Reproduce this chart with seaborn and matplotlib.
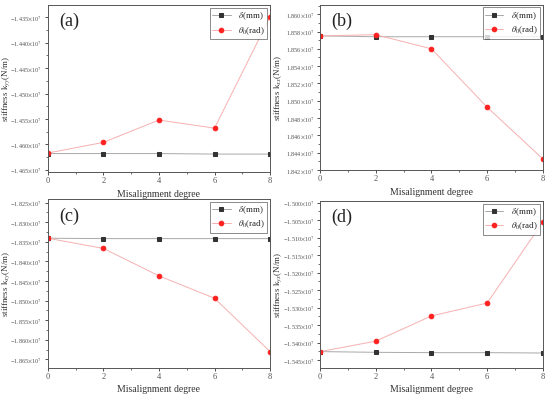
import numpy as np
import pandas as pd
import matplotlib
matplotlib.use("Agg")
import matplotlib.pyplot as plt
import seaborn as sns
from matplotlib.ticker import FuncFormatter, MultipleLocator, AutoMinorLocator

sns.set_style("ticks")
plt.rcParams["font.family"] = ["Liberation Serif", "DejaVu Serif"]
plt.rcParams["mathtext.fontset"] = "stix"

# misalignment degree
degree = [0, 2, 4, 6, 8]

# values in units of 1e7 N/m
a_delta = [-1.4618, -1.4618, -1.4618, -1.4619, -1.4619]
a_theta = [-1.4617, -1.4596, -1.4552, -1.4568, -1.4349]
b_delta = [1.8575, 1.8574, 1.8574, 1.8574, 1.8574]
b_theta = [1.8575, 1.85764, 1.8560, 1.84925, 1.84327]
c_delta = [-1.8341, -1.8342, -1.8342, -1.8342, -1.8342]
c_theta = [-1.8341, -1.8367, -1.8437, -1.8494, -1.8630]
d_delta = [-1.5426, -1.5428, -1.5429, -1.5429, -1.5430]
d_theta = [-1.5426, -1.5396, -1.5324, -1.5287, -1.5055]

panels = [
    ("(a)", "yy", a_delta, a_theta, (-1.4654, -1.4326), 0.005, [0.087, 0.566, 0.404, 0.421], -0.16),
    ("(b)", "xx", b_delta, b_theta, (1.8420, 1.8611), 0.002, [0.582, 0.571, 0.405, 0.417], -0.16),
    ("(c)", "xy", c_delta, c_theta, (-1.8671, -1.8241), 0.005, [0.087, 0.0715, 0.404, 0.426], -0.16),
    ("(d)", "yx", d_delta, d_theta, (-1.5472, -1.4995), 0.005, [0.582, 0.0715, 0.405, 0.421], -0.16),
]


def fmt(v, pos):
    s = f"{abs(v):.3f}"
    sign = "\u2212" if v < -1e-9 else ""
    return sign + s + r"$\times$10$^{7}$"


fig = plt.figure(figsize=(5.5, 3.96), dpi=100)

for tag, sub, dl, th, ylim, step, rect, labx in panels:
    ax = fig.add_axes(rect)
    df = pd.DataFrame({"degree": degree, "delta": dl, "theta": th})
    sns.lineplot(data=df, x="degree", y="delta", ax=ax, color="#a8a8a8", lw=0.7,
                 marker="s", markersize=3, markerfacecolor="#333333",
                 markeredgecolor="#333333", label=r"$\delta$(mm)")
    sns.lineplot(data=df, x="degree", y="theta", ax=ax, color="#f6b0b0", lw=0.7,
                 marker="o", markersize=3.3, markerfacecolor="#ff2020",
                 markeredgecolor="#ff2020", label=r"$\theta_0$(rad)")
    ax.set_xlim(0, 8)
    ax.set_ylim(*ylim)
    ax.xaxis.set_major_locator(MultipleLocator(2))
    ax.xaxis.set_minor_locator(AutoMinorLocator(2))
    ax.yaxis.set_major_locator(MultipleLocator(step))
    ax.yaxis.set_minor_locator(AutoMinorLocator(2))
    ax.yaxis.set_major_formatter(FuncFormatter(fmt))
    ax.tick_params(axis="both", which="major", labelsize=4.5, length=2.5, width=0.6,
                   colors="#333333", labelcolor="#555555", pad=1.5)
    ax.tick_params(axis="both", which="minor", length=1.5, width=0.5, colors="#333333")
    ax.tick_params(axis="x", labelsize=6)
    for s in ax.spines.values():
        s.set_linewidth(0.7)
        s.set_color("#555555")
    ax.set_xlabel("Misalignment degree", fontsize=7, color="#333333", labelpad=3)
    ax.set_ylabel("stiffness k$_{" + sub + "}$(N/m)", fontsize=6.5, color="#333333")
    ax.yaxis.set_label_coords(labx, 0.5)
    ax.text(0.05, 0.9, tag, transform=ax.transAxes, fontsize=13, color="#222222", va="center")
    leg = ax.legend(loc="upper right", fontsize=6.5, frameon=True, fancybox=False,
                    borderpad=0.3, handlelength=2.0, labelspacing=0.3,
                    borderaxespad=0.3)
    leg.get_frame().set_edgecolor("#555555")
    leg.get_frame().set_linewidth(0.6)

fig.savefig("out.png", dpi=100)
